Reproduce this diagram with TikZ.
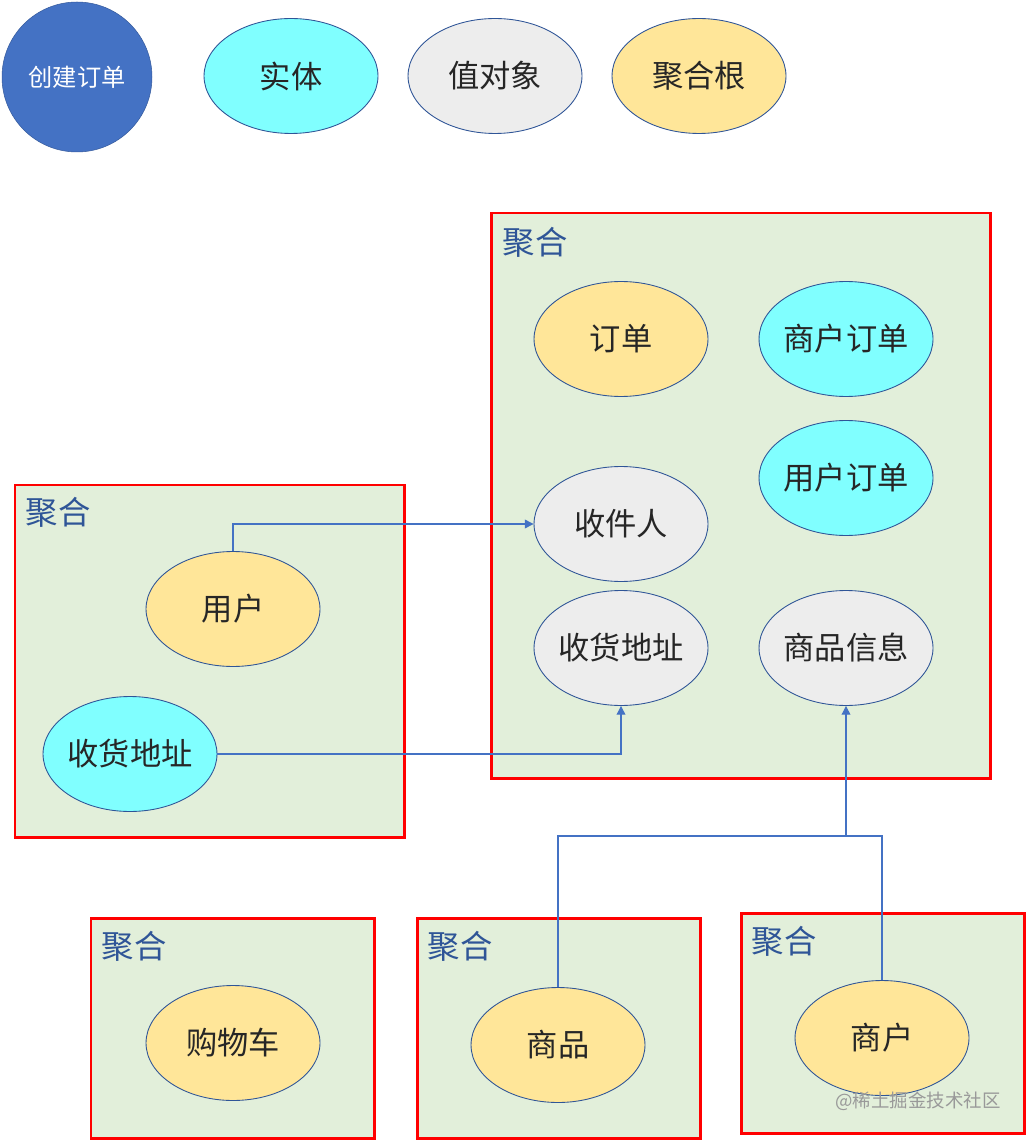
\documentclass[tikz,border=0pt]{standalone}
\usepackage{fontspec}
\setmainfont{Noto Sans CJK SC}
\usetikzlibrary{shapes.geometric,arrows.meta}
\definecolor{legblue}{HTML}{4472C4}
\definecolor{entcol}{HTML}{80FFFF}
\definecolor{valcol}{HTML}{EDEDED}
\definecolor{rootcol}{HTML}{FFE699}
\definecolor{aggfill}{HTML}{E2EFDA}
\definecolor{aggtext}{HTML}{2F5597}
\definecolor{edgecol}{HTML}{2F5597}
\definecolor{linecol}{HTML}{4472C4}
\definecolor{txtcol}{HTML}{262626}
\tikzset{
  ell/.style={ellipse, draw=edgecol, line width=0.5pt, inner xsep=-12pt, inner ysep=0pt,
    minimum width=3.48cm, minimum height=2.3cm, text=txtcol,
    font=\fontsize{17.8pt}{19pt}\selectfont},
  entity/.style={ell, fill=entcol},
  valobj/.style={ell, fill=valcol},
  aggroot/.style={ell, fill=rootcol},
  aggbox/.style={draw=red, fill=aggfill, line width=1.7pt},
  agglabel/.style={text=aggtext, font=\fontsize{18.4pt}{20pt}\selectfont, inner sep=0pt},
  conn/.style={draw=linecol, line width=0.6pt},
  arr/.style={conn, -{Triangle[length=5pt,width=5pt]}}
}
\begin{document}
\begin{tikzpicture}[x=0.02cm,y=-0.02cm]
\useasboundingbox (0,0) rectangle (1026,1141);
% legend
\node[circle, fill=legblue, draw=legblue!80!black, line width=0.3pt, minimum size=3cm, inner sep=0pt,
  text=white, font=\fontsize{13.8pt}{15pt}\selectfont] (cjdd) at (77,77) {创建订单};
\node[entity] (legent) at (291,76) {实体};
\node[valobj] (legval) at (495,76) {值对象};
\node[aggroot] (legroot) at (699,76) {聚合根};
% big aggregate
\path[aggbox] (491,213) rectangle (990,778);
\node[agglabel] (lbl1) at (535,242) {聚合};
\node[aggroot] (dd) at (621,339) {订单};
\node[entity] (shdd) at (846,339) {商户订单};
\node[entity] (yhdd) at (846,478) {用户订单};
\node[valobj] (sjr) at (621,524) {收件人};
\node[valobj] (shdzR) at (621,648) {收货地址};
\node[valobj] (spxx) at (846,648) {商品信息};
% left aggregate
\path[aggbox] (15,485) rectangle (404,837);
\node[agglabel] (lbl2) at (58,512) {聚合};
\node[aggroot] (yh) at (233,609) {用户};
\node[entity] (shdzL) at (130,754) {收货地址};
% bottom aggregates
\path[aggbox] (91,918) rectangle (374,1138);
\node[agglabel] (lbl3) at (134,946) {聚合};
\node[aggroot] (gwc) at (233,1043) {购物车};
\path[aggbox] (417,918) rectangle (700,1138);
\node[agglabel] (lbl4) at (460,946) {聚合};
\node[aggroot] (sp) at (558,1045) {商品};
\path[aggbox] (741,913) rectangle (1024,1133);
\node[agglabel] (lbl5) at (784,941) {聚合};
\node[aggroot] (sh) at (882,1038) {商户};
% connectors
\draw[arr] (yh.north) |- (sjr.west);
\draw[arr] (shdzL.east) -| (shdzR.south);
\coordinate (j) at (846,836);
\draw[conn] (sp.north) |- (j);
\draw[conn] (sh.north) |- (j);
\draw[arr] (j) -- (spxx.south);
% watermark
\node[text=black!40, font=\fontsize{10.5pt}{12pt}\selectfont, inner sep=0pt] (wm) at (918,1101) {@稀土掘金技术社区};
\end{tikzpicture}
\end{document}
